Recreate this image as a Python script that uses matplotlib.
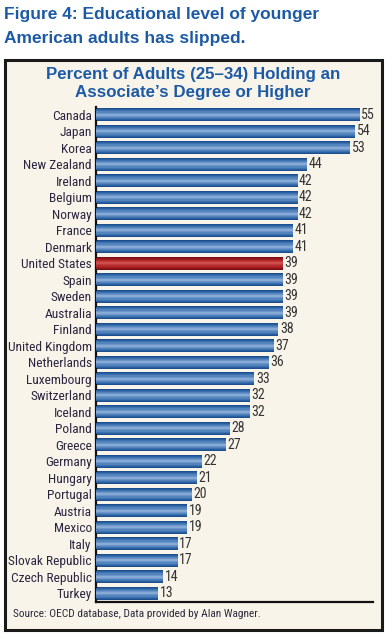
import matplotlib.pyplot as plt
import matplotlib.patches as mpatches
from matplotlib import font_manager

countries = ['Canada', 'Japan', 'Korea', 'New Zealand', 'Ireland', 'Belgium', 'Norway',
             'France', 'Denmark', 'United States', 'Spain', 'Sweden', 'Australia', 'Finland',
             'United Kingdom', 'Netherlands', 'Luxembourg', 'Switzerland', 'Iceland', 'Poland',
             'Greece', 'Germany', 'Hungary', 'Portugal', 'Austria', 'Mexico', 'Italy',
             'Slovak Republic', 'Czech Republic', 'Turkey']
values = [55, 54, 53, 44, 42, 42, 42, 41, 41, 39, 39, 39, 39, 38, 37, 36, 33, 32, 32, 28,
          27, 22, 21, 20, 19, 19, 17, 17, 14, 13]
highlight = 'United States'

W, H = 392, 636
cream = '#f9f4ea'
title_blue = '#1d5aa6'

# narrowest font we can find
names = {f.name for f in font_manager.fontManager.ttflist}
narrow = 'Liberation Sans'
for cand in ['Roboto Condensed', 'Liberation Sans Narrow', 'Open Sans Condensed']:
    if cand in names:
        narrow = cand
        break
lab_size = 9.6 if narrow != 'Liberation Sans' else 8.2

fig = plt.figure(figsize=(W / 100, H / 100), dpi=100)
fig.patch.set_facecolor('white')

def fx(px):
    return px / W

def fy(py):
    return 1 - py / H

# cream box with black border
box = mpatches.Rectangle((fx(5), fy(630)), fx(377), 570 / H, transform=fig.transFigure,
                         facecolor=cream, edgecolor='#1a1a1a', linewidth=2.2, zorder=-5)
fig.patches.append(box)

fig.text(fx(4), fy(15), 'Figure 4: Educational level of younger', color=title_blue,
         fontsize=12.5, fontweight='bold', family='Liberation Sans', va='center', ha='left')
fig.text(fx(4), fy(38), 'American adults has slipped.', color=title_blue,
         fontsize=12.5, fontweight='bold', family='Liberation Sans', va='center', ha='left')

fig.text(fx(193), fy(75), 'Percent of Adults (25\u201334) Holding an', color=title_blue,
         fontsize=12.2, fontweight='bold', family='Liberation Sans', va='center', ha='center')
fig.text(fx(193), fy(93), 'Associate\u2019s Degree or Higher', color=title_blue,
         fontsize=12.2, fontweight='bold', family='Liberation Sans', va='center', ha='center')

fig.text(fx(13), fy(614), 'Source: OECD database, Data provided by Alan Wagner.',
         color='#2b2b3b', fontsize=lab_size - 1.4, family=narrow, va='center', ha='left')

ax = fig.add_axes([fx(96), fy(602), fx(373) - fx(96), (602 - 107) / H])
ax.set_zorder(2)
ax.set_facecolor('none')
n = len(countries)
y = list(range(n))
xmax = (373 - 96) / ((360 - 96) / 55)

# fake the shaded bars with stacked layers, dark edges to light centre
blue_layers = ['#1b4f8f', '#2a5f9f', '#3d70ae', '#5383bd', '#6c96c9', '#86aad4']
red_layers = ['#7c0d10', '#8d1417', '#a01c1f', '#b3282a', '#c33a3a', '#cf4d4b']
heights = [0.76, 0.64, 0.52, 0.4, 0.27, 0.13]
for i, (h, bc, rc) in enumerate(zip(heights, blue_layers, red_layers)):
    cols = [rc if c == highlight else bc for c in countries]
    ax.barh(y, values, height=h, color=cols, linewidth=0, zorder=2 + i)

for yi, v in zip(y, values):
    ax.text(v + 0.3, yi, str(v), va='center', ha='left', fontsize=lab_size + 0.4,
            color='#333333', family=narrow, zorder=10)

ax.set_xlim(0, xmax)
ax.set_ylim(n - 1 + 0.53, -0.47)
ax.set_yticks(y)
ax.set_yticklabels(countries, family=narrow, fontsize=lab_size, color='#2b2540')
ax.tick_params(axis='y', length=0, pad=3)
ax.set_xticks([])
for s in ['top', 'right']:
    ax.spines[s].set_visible(False)
ax.spines['left'].set_linewidth(1.6)
ax.spines['bottom'].set_linewidth(1.6)
ax.spines['left'].set_color('#111111')
ax.spines['bottom'].set_color('#111111')

fig.savefig('out.png', dpi=100, facecolor='white')
